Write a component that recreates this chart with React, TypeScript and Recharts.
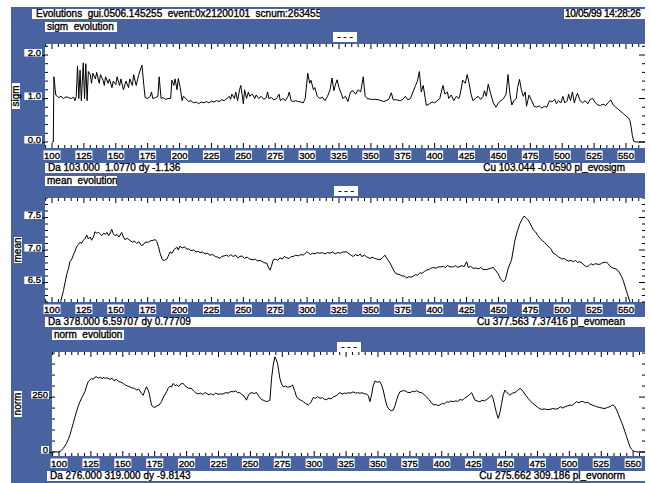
import React from "react";
import { LineChart, Line, XAxis, YAxis } from "recharts";

const BLUE = "#4863a0";
const FONT = "'Liberation Sans', Arial, sans-serif";

const headerTitle = "Evolutions  gui.0506.145255  event:0x21200101  scnum:263455";
const headerDate = "10/05/99 14:28:26";

const xLabels = [100, 125, 150, 175, 200, 225, 250, 275, 300, 325, 350, 375, 400, 425, 450, 475, 500, 525, 550];
const xTickStep = 5;

const sigmTicks = [0, 0.2, 0.4, 0.6, 0.8, 1, 1.2, 1.4, 1.6, 1.8, 2, 2.2];
const sigmLabels = ["0.0", "1.0", "2.0"];
const meanTicks = [6.2, 6.3, 6.4, 6.5, 6.6, 6.7, 6.8, 6.9, 7, 7.1, 7.2, 7.3, 7.4, 7.5, 7.6, 7.7, 7.8];
const meanLabels = ["6.5", "7.0", "7.5"];
const normTicks = [0, 50, 100, 150, 200, 250, 300, 350, 400, 450];
const normLabels = ["0", "250"];

// [position, value]
const sigmSeries: [number, number][] = [
  [100, 0], [101, 0], [101.5, 1.5], [102.5, 1.2], [103, 1.08], [105, 1.02], [107, 1.05], [109, 1.0], [111, 1.04], [113, 1.02],
  [115, 1.0], [117, 1.03], [118, 0.95], [119, 1.05], [120, 1.75], [121, 1.0], [122, 1.65], [123, 0.95], [124.5, 1.82], [125.5, 1.0],
  [126.5, 1.8], [127.5, 0.95], [128.5, 1.62], [130, 1.55], [131, 1.35], [132, 1.58], [134, 1.45], [135, 1.6], [137, 1.35], [138, 1.55],
  [140, 1.42], [141, 1.3], [142, 1.5], [144, 1.35], [145, 1.45], [147, 1.25], [148, 1.4], [150, 1.32], [151, 1.5], [153, 1.3],
  [154, 1.45], [156, 1.2], [158, 1.4], [160, 1.25], [161, 1.45], [163, 1.3], [164, 1.55], [166, 1.3], [168, 1.55], [170.5, 1.77],
  [172, 1.3], [173, 1.02], [175, 1.0], [177, 1.05], [178, 1.15], [179, 1.0], [181, 1.02], [183, 1.05], [184, 1.5], [185.5, 1.0],
  [187, 1.02], [189, 0.98], [191, 1.0], [193, 1.0], [194, 1.42], [195.5, 1.3], [196.5, 1.45], [198, 1.2], [199, 1.46], [200.5, 1.25],
  [202, 0.95], [203, 1.05], [205, 1.0], [207, 0.93], [209, 0.95], [211, 0.9], [213, 0.92], [215, 0.88], [217, 0.92], [219, 0.9],
  [221, 0.93], [223, 0.9], [225, 0.94], [227, 0.92], [229, 0.95], [231, 0.93], [233, 0.97], [235, 0.95], [237, 1.0], [239, 1.05],
  [240, 0.98], [241, 1.1], [243, 1.0], [244, 1.15], [245.5, 0.95], [247, 1.2], [248, 1.3], [249, 1.1], [250, 0.88], [251, 1.2],
  [252.5, 1.0], [254, 1.15], [255, 1.05], [257, 1.1], [259, 1.0], [260, 1.08], [262, 1.0], [264, 1.05], [266, 0.98], [268, 1.02],
  [269, 1.15], [270, 1.0], [272, 1.02], [274, 0.97], [276, 1.0], [278, 1.1], [279, 0.95], [281, 1.0], [283, 0.95], [285, 1.05],
  [286, 1.15], [287.5, 0.95], [289, 0.93], [291, 0.95], [293, 0.93], [295, 0.92], [297, 0.9], [298.5, 1.0], [300.5, 1.58], [302, 1.35],
  [303, 1.42], [305, 1.2], [306, 1.25], [308, 1.05], [310, 1.0], [312, 1.03], [314, 0.95], [316, 1.05], [318, 1.2], [319.5, 1.47],
  [321, 1.18], [322, 1.3], [323.5, 1.43], [325, 1.25], [327, 1.1], [328, 1.0], [330, 1.05], [332, 0.93], [334, 1.15], [336, 1.18],
  [338, 1.1], [340, 1.2], [342, 1.15], [344, 1.5], [345.5, 1.05], [347, 1.0], [350, 0.98], [353, 0.98], [356, 0.97], [358, 0.95],
  [360, 0.93], [362, 0.95], [364, 0.98], [366, 1.13], [367.5, 0.97], [370, 0.97], [373, 0.95], [375, 0.98], [377, 1.05], [379, 0.97],
  [381, 1.0], [383, 1.15], [385, 1.3], [386.5, 1.4], [388, 1.62], [389.5, 1.15], [391, 1.3], [393.5, 0.84], [396, 0.88], [398, 0.92],
  [400, 0.9], [402, 0.95], [404, 1.0], [406.5, 1.3], [408, 1.1], [410, 1.15], [411, 1.0], [413, 1.08], [415, 0.95], [417, 1.05],
  [419, 1.0], [420, 1.1], [422, 1.42], [424, 1.35], [425.5, 1.55], [427, 1.35], [428.5, 1.1], [430, 0.95], [432, 1.0], [434, 1.05],
  [436, 0.98], [438, 1.05], [439, 1.18], [440.5, 1.05], [442, 1.33], [444, 1.1], [446, 0.9], [448, 0.8], [450, 0.9], [452, 0.95],
  [454, 1.0], [456, 1.1], [457.5, 1.55], [459, 1.1], [460.5, 0.85], [462, 0.95], [464, 1.0], [465, 1.25], [466.5, 1.44], [468, 1.2],
  [469.5, 1.05], [471, 1.15], [472, 0.82], [473, 0.95], [474, 1.08], [476, 0.95], [478, 0.82], [480, 0.8], [482, 0.83], [484, 0.78],
  [486, 0.82], [488, 0.8], [490, 0.95], [492, 0.92], [494, 0.98], [495.5, 0.88], [497, 0.95], [499, 0.9], [500.5, 1.05], [502, 0.9],
  [504, 0.95], [505, 1.1], [506.5, 0.95], [508, 1.15], [509.5, 0.9], [511, 1.05], [512, 1.12], [514, 0.95], [516, 0.9], [518, 0.95],
  [520, 0.88], [522, 0.98], [524, 1.0], [526, 0.9], [528, 0.85], [530, 0.84], [532, 0.87], [534, 0.84], [536, 0.9], [538, 0.97],
  [540, 0.85], [542, 0.8], [544, 0.75], [546, 0.7], [548, 0.65], [550, 0.6], [552, 0.55], [553, 0.5], [554, 0.35], [555, 0.15],
  [556, 0.02], [558, 0], [565, 0],
];

const meanSeries: [number, number][] = [
  [100, 5.5], [104, 5.9], [107, 6.22], [109, 6.38], [111.5, 6.62], [113, 6.72], [114, 6.82], [115.5, 6.86], [116.7, 6.92], [118, 6.98],
  [119.3, 7.05], [120.5, 7.08], [122, 7.12], [123, 7.1], [124.6, 7.15], [126, 7.18], [127.2, 7.23], [128.5, 7.17], [130, 7.2], [131, 7.15],
  [132.5, 7.2], [133.7, 7.28], [135, 7.26], [136.5, 7.27], [137.6, 7.25], [139, 7.22], [140.5, 7.26], [142, 7.24], [143, 7.27], [144.5, 7.22],
  [146, 7.28], [146.8, 7.32], [148, 7.25], [149.4, 7.22], [151, 7.24], [152.5, 7.2], [154.6, 7.27], [156, 7.2], [157.2, 7.16], [159, 7.18],
  [161, 7.15], [163, 7.12], [164.5, 7.14], [166.4, 7.1], [168, 7.13], [170, 7.07], [171.6, 7.08], [173, 7.12], [175.5, 7.12], [177, 7.14],
  [179.4, 7.15], [181, 7.16], [182.1, 7.13], [183.5, 7.05], [184.7, 6.95], [186.5, 6.85], [188, 6.84], [189.9, 6.86], [191, 6.9], [192.5, 6.97],
  [194, 6.95], [195.5, 7.0], [196.4, 7.02], [198, 7.04], [199, 7.0], [200.3, 7.06], [202, 7.03], [204, 7.05], [205.6, 7.01], [207, 7.02],
  [209, 6.99], [211, 7.0], [213, 6.97], [214.5, 6.98], [216, 6.96], [218, 6.97], [220, 6.94], [222, 6.95], [223.9, 6.92], [226, 6.93],
  [228, 6.9], [230, 6.89], [231.7, 6.87], [233, 6.9], [235, 6.91], [236.9, 6.92], [238.5, 6.9], [240, 6.93], [242, 6.9], [244, 6.92],
  [245.5, 6.88], [247.4, 6.9], [249, 6.91], [251, 6.87], [253, 6.89], [255, 6.86], [257.8, 6.85], [259.5, 6.86], [261, 6.83], [263, 6.84],
  [265, 6.82], [267, 6.8], [268.3, 6.8], [269.5, 6.74], [270.9, 6.69], [272, 6.75], [273.5, 6.85], [275, 6.86], [277, 6.84], [278.7, 6.88],
  [280.5, 6.86], [282, 6.9], [284, 6.88], [286, 6.87], [287.5, 6.9], [289.1, 6.9], [291, 6.92], [293, 6.91], [295, 6.93], [297, 6.92],
  [298.5, 6.95], [299.6, 6.97], [301, 6.96], [302.5, 6.93], [304, 6.95], [306, 6.94], [308, 6.96], [310, 6.95], [312, 6.96], [314, 6.94],
  [316, 6.96], [318, 6.95], [320, 6.97], [322, 6.94], [324, 6.96], [326, 6.95], [328, 6.97], [331, 6.97], [333, 6.94], [334.5, 6.92],
  [336.2, 6.9], [338, 6.93], [340, 6.91], [341.5, 6.94], [343, 6.9], [345, 6.92], [347, 6.89], [349.3, 6.87], [351, 6.89], [353, 6.87],
  [355, 6.86], [357.1, 6.85], [359, 6.88], [361.1, 6.92], [362.5, 6.87], [365, 6.8], [367, 6.72], [368.9, 6.65], [370.5, 6.63], [372.8, 6.62],
  [374.5, 6.6], [376, 6.6], [378, 6.57], [380, 6.59], [381.5, 6.58], [383.3, 6.6], [385, 6.62], [386.5, 6.61], [388.5, 6.65], [390, 6.64],
  [392, 6.67], [393.7, 6.69], [395.5, 6.7], [397, 6.72], [399, 6.73], [401, 6.72], [403, 6.74], [405, 6.74], [406.8, 6.75], [408.5, 6.73],
  [410, 6.76], [412, 6.74], [414.6, 6.74], [416.5, 6.76], [418, 6.73], [419.9, 6.75], [421.5, 6.76], [423, 6.74], [425.1, 6.82], [426.4, 6.73],
  [428, 6.75], [430, 6.72], [432.9, 6.72], [434.5, 6.71], [436, 6.73], [438, 6.7], [440.8, 6.7], [442.5, 6.71], [444, 6.72], [446, 6.73],
  [448, 6.68], [449.9, 6.63], [451.5, 6.56], [453.8, 6.51], [455.5, 6.55], [457.7, 6.72], [460.3, 6.85], [462.9, 7.15], [465, 7.3], [466.9, 7.41],
  [468.5, 7.47], [470, 7.52], [471.5, 7.5], [473.4, 7.46], [475, 7.4], [477.3, 7.31], [479, 7.28], [481, 7.22], [482.6, 7.18], [484.5, 7.14],
  [486, 7.12], [487.8, 7.08], [489.5, 7.05], [491, 7.02], [493, 6.95], [495, 6.93], [496.5, 6.9], [498.2, 6.88], [500, 6.86], [501.5, 6.87],
  [503.5, 6.84], [505, 6.83], [507, 6.84], [508.7, 6.82], [510.5, 6.84], [512, 6.81], [513.9, 6.82], [515.5, 6.8], [517, 6.77], [519.1, 6.74],
  [521, 6.76], [522.5, 6.79], [524.4, 6.77], [526, 6.79], [528, 6.78], [529.6, 6.78], [531, 6.8], [533, 6.81], [534.8, 6.81], [536, 6.79],
  [537.4, 6.75], [539, 6.73], [540, 6.72], [542, 6.71], [544, 6.68], [546.6, 6.59], [548, 6.52], [549.2, 6.44], [550.5, 6.36], [551.8, 6.28],
  [553.1, 6.2], [555, 6.0], [558, 5.7],
];

const normSeries: [number, number][] = [
  [94.6, 0], [97, 1], [99, 0], [100.7, 2], [102, 8], [103.3, 17], [104.6, 27], [105.9, 40], [107.2, 57], [108.5, 77],
  [109.8, 103], [111.1, 130], [112.4, 158], [113.7, 183], [115, 208], [116.4, 229], [118.3, 252], [120.3, 274], [121.6, 300], [122.9, 320],
  [124.2, 328], [125.5, 335], [126.8, 330], [128, 340], [129.4, 342], [131, 336], [132.5, 341], [134, 332], [134.6, 340], [136.2, 335],
  [137.5, 338], [139.9, 330], [141.5, 336], [143, 325], [145.1, 330], [146.8, 320], [148.5, 318], [150.3, 312], [152, 305], [153.8, 300],
  [155.5, 297], [157, 292], [159, 290], [160.8, 282], [162.5, 286], [164.7, 267], [166, 258], [167.3, 280], [168.6, 297], [169.6, 285],
  [170.7, 267], [171.6, 240], [172.5, 214], [173.8, 205], [175.1, 203], [176.8, 210], [178.5, 214], [180.3, 229], [182.3, 255], [184.3, 274],
  [185.5, 290], [187, 300], [188.2, 296], [189.5, 312], [191, 302], [192.1, 305], [193.8, 298], [195.5, 310], [197.3, 312], [198.6, 302],
  [199.9, 297], [201.5, 290], [203.8, 289], [205.5, 278], [207, 270], [209, 264], [211, 268], [212.8, 262], [214.3, 270], [215.6, 267],
  [217.5, 260], [219, 266], [220.8, 259], [222.8, 268], [224.5, 263], [226.6, 264], [228.6, 264], [230.5, 270], [232.5, 268], [234.5, 275],
  [236.5, 274], [238.5, 278], [240, 270], [241.7, 270], [243.3, 262], [245, 255], [246.9, 236], [248.2, 255], [249.5, 267], [251.3, 270],
  [253, 266], [254.8, 271], [256.5, 255], [258.7, 239], [260.5, 235], [262.6, 229], [264, 232], [265.3, 236], [266.6, 335], [268, 400],
  [269.2, 433], [270.3, 420], [271.3, 403], [272.2, 370], [273.1, 335], [274.4, 310], [275.8, 297], [277.5, 300], [279.3, 295], [281, 297],
  [282, 300], [283.1, 305], [284.6, 280], [286.2, 251], [288, 240], [289.8, 235], [291.5, 229], [293.5, 220], [295.4, 214], [297.3, 225],
  [299.3, 248], [301, 245], [302.8, 252], [304.6, 244], [306.5, 248], [308, 240], [309.7, 238], [311.5, 245], [313.3, 242], [315, 251],
  [317, 255], [318.5, 262], [320.2, 270], [322, 264], [323.7, 268], [325.4, 267], [327, 270], [328.8, 268], [330.6, 274], [332.5, 268],
  [334, 270], [335.9, 267], [337.5, 270], [339.3, 265], [341.1, 264], [342.5, 255], [343.7, 229], [345, 260], [346.2, 300], [347.6, 323],
  [349.5, 318], [351.5, 320], [352.8, 305], [354.1, 282], [355.5, 245], [356.8, 214], [358, 200], [359.4, 191], [360.7, 188], [362, 191],
  [363.3, 210], [364.6, 236], [366, 260], [367.2, 274], [369, 278], [371.1, 279], [373, 272], [375.1, 270], [377, 276], [378.5, 274],
  [380.3, 279], [382.3, 272], [384.2, 270], [386, 262], [388.1, 251], [390, 238], [391.8, 225], [393.4, 214], [395, 216], [396.8, 212],
  [398.6, 214], [400.5, 222], [402, 218], [403.8, 229], [405.5, 226], [407, 232], [409, 229], [411, 233], [412.5, 230], [414.3, 239],
  [416, 236], [417.8, 244], [419.5, 251], [421.5, 260], [423.4, 270], [424.6, 255], [426, 236], [428, 232], [429.9, 229], [431.6, 235],
  [433.4, 233], [435.2, 239], [437.2, 248], [439.1, 259], [440.4, 240], [441.7, 206], [443, 175], [444.3, 153], [445.6, 180], [446.9, 221],
  [448.2, 260], [449.5, 282], [451.5, 268], [453.4, 259], [455.4, 268], [457.4, 270], [459.3, 280], [461.3, 289], [462.6, 284], [463.9, 274],
  [465.8, 258], [467.8, 244], [469.5, 232], [471.2, 222], [473, 214], [474.8, 205], [476.5, 198], [478.3, 194], [480.5, 196], [482.6, 193],
  [484.8, 194], [487, 198], [489.2, 195], [491.3, 198], [493, 206], [494.8, 200], [496.6, 206], [498.5, 210], [500.5, 214], [502, 212],
  [503.8, 220], [505.7, 229], [507.5, 224], [509.2, 230], [510.9, 229], [512.8, 224], [514.5, 226], [516.2, 218], [518, 214], [519.7, 210],
  [521.4, 206], [523.5, 203], [525.6, 200], [527.9, 198], [529.8, 203], [531.8, 206], [533.1, 212], [534.4, 214], [535.8, 205], [537.1, 191],
  [538.4, 172], [539.7, 153], [541, 135], [542.3, 115], [543.6, 92], [544.9, 70], [546.2, 46], [547.5, 24], [548.8, 12], [550.1, 5],
  [552, 2], [554, 0], [556, 1], [559.3, 0],
];

const PLOT_H = 104;
const RIGHT = 645;
const FRAME_LEFT = 11;

type PanelCfg = {
  name: string;
  axisName: string;
  top: number;
  plotLeft: number;
  xDomain: [number, number];
  yDomain: [number, number];
  yTicks: number[];
  yLabels: string[];
  series: [number, number][];
  nameBoxY: number;
  dashX: number;
  dashY: number;
  axisNameX: number;
  daLeft: number;
  daText: string;
  cuText: string;
};

const panels: PanelCfg[] = [
  {
    name: "sigm  evolution", axisName: "sigm", top: 44, plotLeft: 45,
    xDomain: [94.5, 564.9], yDomain: [-0.138, 2.253], yTicks: sigmTicks, yLabels: sigmLabels,
    series: sigmSeries, nameBoxY: 22, dashX: 333, dashY: 32, axisNameX: 15.5, daLeft: 45,
    daText: "Da 103.000  1.0770 dy -1.136", cuText: "Cu 103.044 -0.0590 pl_evosigm",
  },
  {
    name: "mean  evolution", axisName: "mean", top: 198, plotLeft: 45,
    xDomain: [94.5, 564.9], yDomain: [6.2, 7.8], yTicks: meanTicks, yLabels: meanLabels,
    series: meanSeries, nameBoxY: 176, dashX: 334, dashY: 186, axisNameX: 17.5, daLeft: 45,
    daText: "Da 378.000 6.59707 dy 0.77709", cuText: "Cu 377.563 7.37416 pl_evomean",
  },
  {
    name: "norm  evolution", axisName: "norm", top: 352, plotLeft: 52,
    xDomain: [94.5, 559.3], yDomain: [-18, 455], yTicks: normTicks, yLabels: normLabels,
    series: normSeries, nameBoxY: 330, dashX: 337, dashY: 342, axisNameX: 18, daLeft: 47,
    daText: "Da 276.000 319.000 dy -9.8143", cuText: "Cu 275.662 309.186 pl_evonorm",
  },
];

const textStyle: React.CSSProperties = {
  fontFamily: FONT,
  fontSize: 10,
  lineHeight: "10px",
  color: "#000",
  WebkitTextStroke: "0.35px #000",
  whiteSpace: "pre",
};

function Box({ x, y, w, h, children, style }: { x: number; y: number; w: number; h: number; children?: React.ReactNode; style?: React.CSSProperties }) {
  return (
    <div style={{ position: "absolute", left: x, top: y, width: w, height: h, background: "#fff", overflow: "hidden", ...textStyle, ...style }}>
      {children}
    </div>
  );
}

function Panel({ cfg }: { cfg: PanelCfg }) {
  const plotW = RIGHT - cfg.plotLeft;
  const data = cfg.series.map(([x, v]) => ({ x, v }));
  const xTicks: number[] = [];
  for (let t = 95; t <= cfg.xDomain[1]; t += xTickStep) xTicks.push(t);
  const labelOf = (v: number) => cfg.yLabels.find((l) => Math.abs(parseFloat(l) - v) < 1e-6);

  const renderXTick = (props: any) => {
    const { x, y, payload } = props;
    const isMajor = xLabels.includes(payload.value);
    const len = isMajor ? 5 : 3;
    const top = y - PLOT_H;
    return (
      <g>
        <line x1={x} x2={x} y1={y} y2={y - len} stroke="#000" strokeWidth={1} />
        <line x1={x} x2={x} y1={top} y2={top + len} stroke="#000" strokeWidth={1} />
        {isMajor && (
          <g>
            <rect x={x - 8.5} y={y + 2.5} width={17} height={9.5} fill="#fff" />
            <text x={x} y={y + 10.5} textAnchor="middle" fontFamily={FONT} fontSize={9.5} fill="#000" stroke="#000" strokeWidth={0.35}>
              {payload.value}
            </text>
          </g>
        )}
      </g>
    );
  };

  const renderYTick = (props: any) => {
    const { x, y, payload } = props;
    const label = labelOf(payload.value);
    const right = x + plotW;
    const len = label ? 6 : 3;
    const w = label ? label.length * 4.9 + 3 : 0;
    return (
      <g>
        <line x1={x} x2={x + 3} y1={y} y2={y} stroke="#000" strokeWidth={1} />
        <line x1={right} x2={right - len} y1={y} y2={y} stroke="#000" strokeWidth={1} />
        {label && (
          <g>
            <line x1={x - 3} x2={x} y1={y + 0.5} y2={y + 0.5} stroke="#000" strokeWidth={1} />
            <rect x={x - 3 - w} y={y - 6} width={w} height={7.5} fill="#fff" />
            <text x={x - 4} y={y + 0.8} textAnchor="end" fontFamily={FONT} fontSize={9.5} fill="#000" stroke="#000" strokeWidth={0.35}>
              {label}
            </text>
          </g>
        )}
      </g>
    );
  };

  const nameW = cfg.axisName.length * 6 + 2;
  return (
    <>
      <Box x={cfg.plotLeft} y={cfg.nameBoxY} w={72} h={10} style={{ paddingLeft: 2, boxSizing: "border-box" }}>{cfg.name}</Box>
      <Box x={cfg.dashX} y={cfg.dashY} w={24} h={10} style={{ textAlign: "center" }}>- - -</Box>
      <div
        style={{
          position: "absolute",
          left: cfg.axisNameX - nameW / 2,
          top: cfg.top + PLOT_H / 2 - 4,
          width: nameW,
          height: 8,
          background: "#fff",
          transform: "rotate(-90deg)",
          textAlign: "center",
          ...textStyle,
          lineHeight: "8px",
        }}
      >
        {cfg.axisName}
      </div>
      <div style={{ position: "absolute", left: cfg.plotLeft, top: cfg.top, width: plotW, height: PLOT_H, background: "#fff" }} />
      <div style={{ position: "absolute", left: FRAME_LEFT, top: cfg.top }}>
        <LineChart width={RIGHT - FRAME_LEFT} height={PLOT_H + 14} data={data} margin={{ top: 0, right: 0, bottom: 0, left: 0 }}>
          <XAxis
            type="number"
            dataKey="x"
            domain={cfg.xDomain}
            ticks={xTicks}
            interval={0}
            allowDataOverflow
            height={14}
            tickLine={false}
            axisLine={false}
            tickSize={0}
            tickMargin={0}
            tick={renderXTick}
          />
          <YAxis
            type="number"
            domain={cfg.yDomain}
            ticks={cfg.yTicks}
            interval={0}
            allowDataOverflow
            width={cfg.plotLeft - FRAME_LEFT}
            tickLine={false}
            axisLine={false}
            tickSize={0}
            tickMargin={0}
            tick={renderYTick}
          />
          <Line type="linear" dataKey="v" stroke="#000" strokeWidth={1} dot={false} isAnimationActive={false} />
        </LineChart>
      </div>
      <Box x={cfg.daLeft} y={cfg.top + PLOT_H + 15} w={RIGHT - cfg.daLeft} h={10}>
        <span style={{ position: "absolute", left: 3, top: 0 }}>{cfg.daText}</span>
        <span style={{ position: "absolute", right: 20, top: 0 }}>{cfg.cuText}</span>
      </Box>
    </>
  );
}

export default function App() {
  return (
    <div style={{ position: "absolute", left: 0, top: 0, width: 651, height: 483, background: "#fff", overflow: "hidden" }}>
      <div style={{ position: "absolute", left: FRAME_LEFT, top: 7, width: RIGHT - FRAME_LEFT, height: 476, background: BLUE }} />
      <Box x={32} y={9} w={288} h={10} style={{ paddingLeft: 4, boxSizing: "border-box" }}>{headerTitle}</Box>
      <Box x={564} y={9} w={81} h={10} style={{ paddingLeft: 1, boxSizing: "border-box", letterSpacing: "-0.3px" }}>{headerDate}</Box>
      {panels.map((p) => (
        <Panel key={p.axisName} cfg={p} />
      ))}
    </div>
  );
}
